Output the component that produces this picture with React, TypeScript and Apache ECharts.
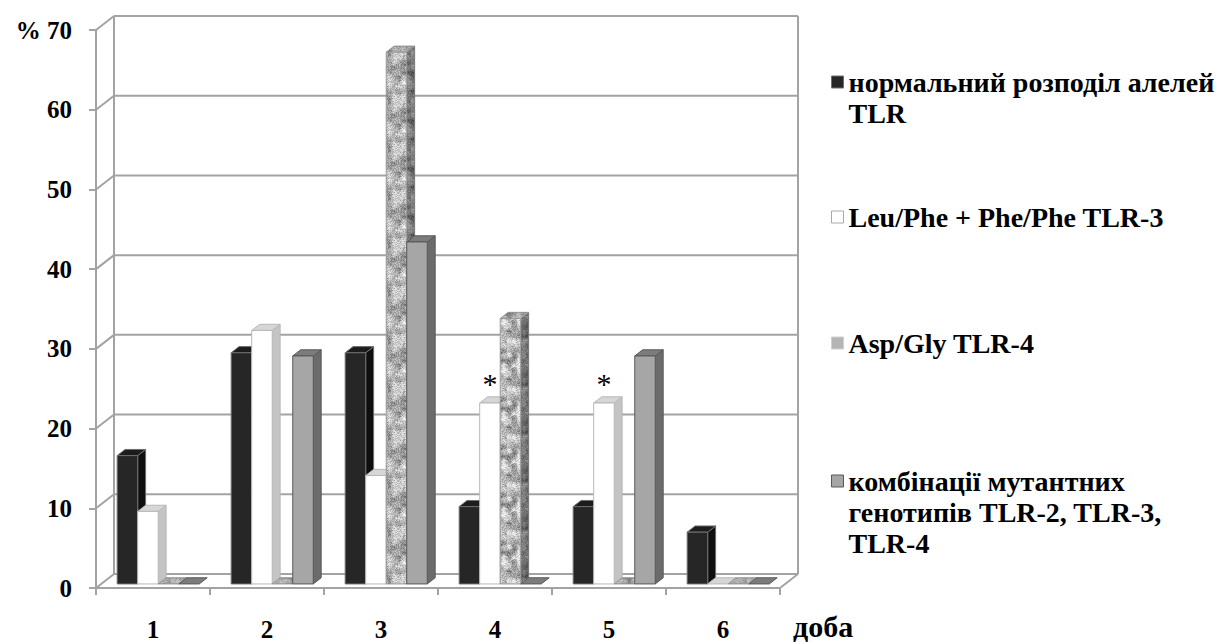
import React, { useEffect, useRef } from "react";
import * as echarts from "echarts";

// Days after onset (category axis)
const days = ["1", "2", "3", "4", "5", "6"];

// Share of patients (%) per genotype group
const normalAlleles = [16.1, 29.0, 29.0, 9.7, 9.7, 6.5];
const leuPhe = [9.1, 31.8, 13.6, 22.7, 22.7, 0];
const aspGly = [0, 0, 66.7, 33.3, 0, 0];
const mutantCombos = [0, 28.6, 42.9, 0, 28.6, 0];

// Significance marks drawn over the Leu/Phe bars
const leuPheMarks = ["", "", "", "*", "*", ""];

const seriesNames = [
  "нормальний розподіл алелей\nTLR",
  "Leu/Phe + Phe/Phe TLR-3",
  "Asp/Gly TLR-4",
  "комбінації мутантних\nгенотипів TLR-2, TLR-3,\nTLR-4",
];

const yTicks = [0, 10, 20, 30, 40, 50, 60, 70];

// Perspective of the box: offset from the front plane to the back wall
const DX = 18;
const DY = 14;
const BAR_FRONT = 0.29; // depth at which bar fronts stand
const BAR_DEPTH = 0.44; // depth taken by a bar
const BAR_FRAC = 0.18; // bar width relative to a category band

const FONT = "Liberation Serif";
const GRID_COLOR = "#a3a3a3";

// Deterministic granite-like texture for the Asp/Gly bars
function graniteTexture(): string {
  const size = 48;
  const c = document.createElement("canvas");
  c.width = size;
  c.height = size;
  const ctx = c.getContext("2d")!;
  const img = ctx.createImageData(size, size);
  const hash = (x: number, y: number) => {
    const s = Math.sin(x * 127.1 + y * 311.7) * 43758.5453;
    return s - Math.floor(s);
  };
  const cell = 5;
  const n = Math.round(size / cell);
  const lattice = (i: number, j: number) => hash(((i % n) + n) % n, ((j % n) + n) % n);
  for (let y = 0; y < size; y++) {
    for (let x = 0; x < size; x++) {
      const gx = (x / size) * n;
      const gy = (y / size) * n;
      const i = Math.floor(gx);
      const j = Math.floor(gy);
      const fx = gx - i;
      const fy = gy - j;
      const sx = fx * fx * (3 - 2 * fx);
      const sy = fy * fy * (3 - 2 * fy);
      const a = lattice(i, j);
      const b = lattice(i + 1, j);
      const cc = lattice(i, j + 1);
      const d = lattice(i + 1, j + 1);
      const coarse = a + (b - a) * sx + (cc - a) * sy + (a - b - cc + d) * sx * sy;
      const fine = hash(x + 17, y + 53);
      let g = 125 + coarse * 110 + (fine - 0.5) * 60;
      if (fine > 0.93) g -= 70;
      g = Math.max(35, Math.min(240, g));
      const k = (y * size + x) * 4;
      img.data[k] = g;
      img.data[k + 1] = g;
      img.data[k + 2] = g;
      img.data[k + 3] = 255;
    }
  }
  ctx.putImageData(img, 0, 0);
  return c.toDataURL();
}

type Look = {
  front: any;
  side: any;
  top: any;
  stroke: string;
  sideShade?: string;
  topShade?: string;
};

function barRenderer(index: number, look: Look, marks?: string[]) {
  return (params: any, api: any) => {
    const ci = api.value(0);
    const v = api.value(1);
    const p0 = api.coord([ci, 0]);
    const p1 = api.coord([ci, v]);
    const band = api.size([1, 0])[0];
    const w = band * BAR_FRAC;
    const sx = DX * BAR_FRONT;
    const sy = DY * BAR_FRONT;
    const ddx = DX * BAR_DEPTH;
    const ddy = DY * BAR_DEPTH;
    const xL = p0[0] - band / 2 + (band - 4 * w) / 2 + index * w + sx;
    const xR = xL + w;
    const yB = p0[1] - sy;
    const yT = p1[1] - sy;
    const stroke = { stroke: look.stroke, lineWidth: 1 };
    const children: any[] = [];
    if (v > 0) {
      const side = [
        [xR, yT],
        [xR + ddx, yT - ddy],
        [xR + ddx, yB - ddy],
        [xR, yB],
      ];
      children.push({ type: "polygon", shape: { points: side }, style: { fill: look.side, ...stroke } });
      if (look.sideShade) {
        children.push({ type: "polygon", shape: { points: side }, style: { fill: look.sideShade } });
      }
    }
    const top = [
      [xL, yT],
      [xR, yT],
      [xR + ddx, yT - ddy],
      [xL + ddx, yT - ddy],
    ];
    children.push({ type: "polygon", shape: { points: top }, style: { fill: look.top, ...stroke } });
    if (look.topShade) {
      children.push({ type: "polygon", shape: { points: top }, style: { fill: look.topShade } });
    }
    if (v > 0) {
      children.push({
        type: "rect",
        shape: { x: xL, y: yT, width: w, height: yB - yT },
        style: { fill: look.front, ...stroke },
      });
    }
    const mark = marks ? marks[ci] : "";
    if (mark) {
      children.push({
        type: "text",
        style: {
          text: mark,
          x: xL + w / 2,
          y: yT - 19,
          align: "center",
          verticalAlign: "middle",
          fill: "#000",
          fontFamily: FONT,
          fontSize: 30,
        },
      });
    }
    return { type: "group", children };
  };
}

// Back wall, side wall and floor outline of the box
function wallRenderer(params: any, api: any) {
  const cs = params.coordSys;
  const v = api.value(1);
  const y = api.coord([0, v])[1];
  const x0 = cs.x;
  const x1 = cs.x + cs.width;
  const line = (a: number[], b: number[]) => ({
    type: "line",
    shape: { x1: a[0], y1: a[1], x2: b[0], y2: b[1] },
    style: { stroke: GRID_COLOR, lineWidth: 2 },
  });
  const children: any[] = [
    line([x0 + DX, y - DY], [x1 + DX, y - DY]),
    line([x0, y], [x0 + DX, y - DY]),
  ];
  if (v === 0) {
    const yTop = cs.y - DY;
    children.push(line([x0 + DX, y - DY], [x0 + DX, yTop]));
    children.push(line([x1 + DX, y - DY], [x1 + DX, yTop]));
    children.push(line([x1, y], [x1 + DX, y - DY]));
  }
  return { type: "group", children };
}

export default function App() {
  const ref = useRef<HTMLDivElement>(null);

  useEffect(() => {
    if (!ref.current) return;
    const chart = echarts.init(ref.current, undefined, { renderer: "svg" });
    const granite = {
      image: graniteTexture(),
      repeat: "repeat",
      imageWidth: 48,
      imageHeight: 48,
    };

    const looks: Look[] = [
      { front: "#262626", side: "#0f0f0f", top: "#1c1c1c", stroke: "#6e6e6e" },
      { front: "#ffffff", side: "#c4c4c4", top: "#d6d6d6", stroke: "#b8b8b8" },
      {
        front: granite,
        side: granite,
        top: granite,
        stroke: "#9a9a9a",
        sideShade: "rgba(0,0,0,0.35)",
        topShade: "rgba(120,120,120,0.35)",
      },
      { front: "#a6a6a6", side: "#6b6b6b", top: "#7c7c7c", stroke: "#595959" },
    ];
    const legendColors = [
      { color: "#262626", borderColor: "#6e6e6e" },
      { color: "#ffffff", borderColor: "#a8a8a8" },
      { color: "#b5b5b5", borderColor: "#d0d0d0" },
      { color: "#a6a6a6", borderColor: "#595959" },
    ];
    const values = [normalAlleles, leuPhe, aspGly, mutantCombos];

    // Legend entries: centre of the first line and number of lines
    const legendRows = [
      { yc: 82, lines: 2 },
      { yc: 217, lines: 1 },
      { yc: 343, lines: 1 },
      { yc: 481, lines: 3 },
    ];
    const LH = 31;

    chart.setOption({
      animation: false,
      backgroundColor: "#ffffff",
      grid: { left: 96, right: 448, top: 30, bottom: 52 },
      xAxis: {
        type: "category",
        data: days,
        axisLine: { show: true, lineStyle: { color: GRID_COLOR, width: 2 } },
        axisTick: { show: true, length: 7, lineStyle: { color: GRID_COLOR, width: 2 } },
        axisLabel: {
          margin: 29,
          color: "#000",
          fontFamily: FONT,
          fontWeight: "bold",
          fontSize: 25,
        },
        splitLine: { show: false },
      },
      yAxis: {
        type: "value",
        min: 0,
        max: 70,
        interval: 10,
        axisLine: { show: true, lineStyle: { color: GRID_COLOR, width: 2 } },
        axisTick: { show: true, length: 7, lineStyle: { color: GRID_COLOR, width: 2 } },
        axisLabel: {
          margin: 24,
          color: "#000",
          fontFamily: FONT,
          fontWeight: "bold",
          fontSize: 25,
          formatter: (v: number) => (v === 70 ? "% 70" : String(v)),
        },
        splitLine: { show: false },
      },
      // One legend per entry so that each can sit at its own height;
      // leading blank lines keep the marker level with the first text line.
      legend: seriesNames.map((name, i) => ({
        orient: "vertical",
        left: 831,
        top: legendRows[i].yc - ((2 * legendRows[i].lines - 1) * LH) / 2,
        padding: 0,
        itemWidth: 12,
        itemHeight: 12,
        itemGap: 4,
        selectedMode: false,
        formatter: (n: string) => "\n".repeat(legendRows[i].lines - 1) + n,
        data: [
          {
            name,
            icon: "rect",
            itemStyle: { ...legendColors[i], borderWidth: 1 },
          },
        ],
        textStyle: {
          color: "#000",
          fontFamily: FONT,
          fontWeight: "bold",
          fontSize: 28,
          lineHeight: LH,
        },
      })),
      graphic: [
        {
          type: "text",
          left: 793,
          top: 611,
          style: {
            text: "доба",
            fill: "#000",
            fontFamily: FONT,
            fontWeight: "bold",
            fontSize: 30,
          },
        },
      ],
      series: [
        {
          type: "custom",
          name: "wall",
          silent: true,
          z: 1,
          renderItem: wallRenderer,
          data: yTicks.map((t) => [0, t]),
          encode: { x: 0, y: 1 },
        },
        ...seriesNames.map((name, i) => ({
          type: "custom",
          name,
          z: 2,
          itemStyle: { color: legendColors[i].color },
          renderItem: barRenderer(i, looks[i], i === 1 ? leuPheMarks : undefined),
          data: values[i].map((v, ci) => [ci, v]),
          encode: { x: 0, y: 1 },
        })),
      ],
    });
    return () => chart.dispose();
  }, []);

  return (
    <div
      ref={ref}
      style={{ position: "absolute", left: 0, top: 0, width: 1228, height: 642, background: "#fff" }}
    />
  );
}
